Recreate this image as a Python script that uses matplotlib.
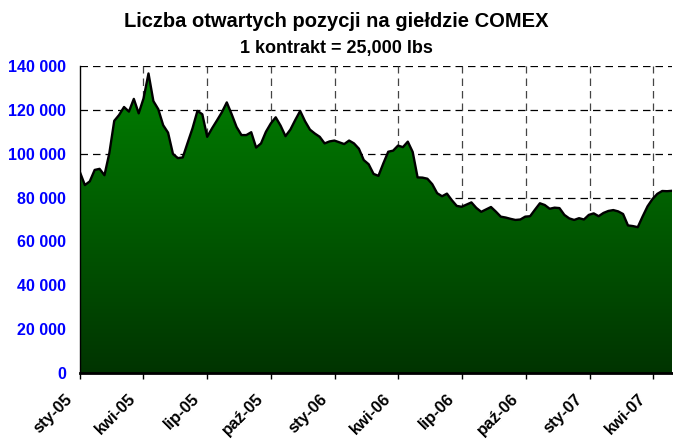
import numpy as np
import pandas as pd
import matplotlib
matplotlib.use("Agg")
import matplotlib.pyplot as plt
import matplotlib.dates as mdates
import matplotlib.transforms as mtransforms

# dane: tygodniowe otwarte pozycje (tys. kontraktow), od 2005-01-01
START = "2005-01-01"
open_interest = [
    91.5, 85.7, 87.4, 92.6, 93.1, 90.2, 100.3, 115.0, 117.7, 121.3,
    119.2, 125.0, 118.4, 125.3, 136.6, 124.0, 120.3, 113.0, 109.6, 99.9,
    98.0, 98.3, 105.0, 111.6, 119.5, 118.0, 107.7, 111.6, 115.2, 118.9,
    123.4, 118.0, 112.2, 108.5, 108.5, 109.8, 102.8, 104.7, 110.0, 113.8,
    116.6, 112.8, 108.0, 111.0, 115.4, 119.5, 114.8, 111.0, 109.2, 107.7,
    104.7, 105.6, 106.0, 105.2, 104.4, 106.0, 104.7, 102.3, 97.1, 95.2,
    90.8, 89.9, 95.6, 100.9, 101.4, 103.7, 103.0, 105.5, 100.8, 89.2,
    89.1, 88.6, 86.1, 82.0, 80.6, 81.8, 78.8, 76.2, 75.8, 76.8,
    77.8, 75.3, 73.5, 74.6, 75.7, 73.6, 71.3, 70.9, 70.3, 69.8,
    70.0, 71.3, 71.5, 74.5, 77.4, 76.6, 74.9, 75.4, 75.2, 72.1,
    70.5, 69.8, 70.6, 70.0, 72.1, 72.8, 71.5, 73.0, 73.9, 74.3,
    73.7, 72.5, 67.3, 67.0, 66.5, 71.4, 76.0, 79.3, 81.7, 83.0,
    82.9, 83.1,
]
tick_dates = ["2005-01-01", "2005-04-01", "2005-07-01", "2005-10-01",
              "2006-01-01", "2006-04-01", "2006-07-01", "2006-10-01",
              "2007-01-01", "2007-04-01"]
tick_labels = ["sty-05", "kwi-05", "lip-05", "paź-05", "sty-06",
               "kwi-06", "lip-06", "paź-06", "sty-07", "kwi-07"]
y_ticks = [0, 20000, 40000, 60000, 80000, 100000, 120000, 140000]
y_labels = ["0", "20 000", "40 000", "60 000", "80 000", "100 000",
            "120 000", "140 000"]

plt.rcParams['font.family'] = ['Liberation Sans', 'DejaVu Sans']

dates = pd.date_range(START, periods=len(open_interest), freq="7D")
x = mdates.date2num(dates)
y = np.array(open_interest) * 1000

fig = plt.figure(figsize=(6.73, 4.40), dpi=100)
ax = fig.add_axes([80 / 673, 1 - 373 / 440, 592 / 673, 307 / 440])

xmin, xmax = x[0], x[-1]
ax.set_xlim(xmin, xmax)
ax.set_ylim(0, 140000)

# gradientowe wypelnienie (jasna zielen u gory, ciemna u dolu)
grad = np.linspace(1, 0, 256)[:, None]
top = np.array([0, 130, 0]) / 255
bot = np.array([0, 52, 0]) / 255
img = (bot + (top - bot) * grad[..., None])
poly = ax.fill_between(x, 0, y, facecolor='none', edgecolor='none')
im = ax.imshow(img, extent=[xmin, xmax, 0, 140000], aspect='auto',
               origin='upper', zorder=1)
im.set_clip_path(poly.get_paths()[0], transform=ax.transData)
ax.plot(x, y, color='black', lw=1.7, zorder=3)

# siatka
for yt in y_ticks[1:]:
    ax.axhline(yt, color='black', lw=0.9, ls=(0, (6, 4)), zorder=0.5)
tick_x = mdates.date2num(pd.to_datetime(tick_dates))
for tx in tick_x[1:]:
    ax.axvline(tx, color='#444444', lw=0.9, ls=(0, (6, 4)), zorder=0.5)

ax.set_yticks(y_ticks)
ax.set_yticklabels(y_labels, color='#0000ff', fontweight='bold', fontsize=11.5)
ax.tick_params(axis='y', length=0, pad=10)
ax.set_xticks(tick_x)
ax.set_xticklabels(tick_labels, rotation=45, ha='right', va='center',
                   rotation_mode='anchor', fontweight='bold', fontsize=12)
ax.tick_params(axis='x', length=4, width=1, direction='out', pad=13)
shift = mtransforms.ScaledTranslation(-10 / 100, 0, fig.dpi_scale_trans)
for lbl in ax.get_xticklabels():
    lbl.set_transform(lbl.get_transform() + shift)

for s in ['top', 'right']:
    ax.spines[s].set_visible(False)
ax.spines['left'].set_linewidth(1)
ax.spines['bottom'].set_linewidth(2)
ax.spines['bottom'].set_zorder(4)

fig.text(0.5, 1 - 27 / 440, "Liczba otwartych pozycji na giełdzie COMEX",
         ha='center', va='baseline', fontsize=14.5, fontweight='bold')
fig.text(0.5, 1 - 53 / 440, "1 kontrakt = 25,000 lbs",
         ha='center', va='baseline', fontsize=13, fontweight='bold')

fig.savefig("out.png", dpi=100)
